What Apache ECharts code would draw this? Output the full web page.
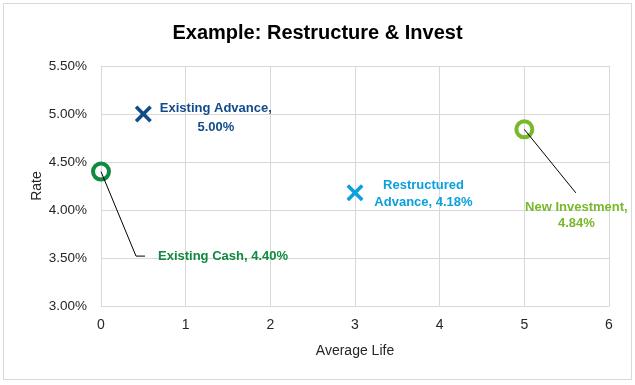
<!DOCTYPE html>
<html>
<head>
<meta charset="utf-8">
<script src="https://cdn.jsdelivr.net/npm/echarts@6/dist/echarts.min.js"></script>
<style>
html,body{margin:0;padding:0;background:#fff;}
#chart{position:absolute;left:0;top:0;width:635px;height:385px;}
#frame{position:absolute;left:3px;top:3px;width:627px;height:375px;border:1px solid #d9d9d9;pointer-events:none;}
</style>
</head>
<body>
<div id="chart"></div>
<div id="frame"></div>
<script>
const FONT = '"Liberation Sans",Arial,sans-serif';
const pointNames = ['Existing Advance', 'Existing Cash', 'Restructured Advance', 'New Investment'];
const avgLife = [0.5, 0, 3, 5];
const rates = [5.00, 4.40, 4.18, 4.84];
const labelTexts = ['Existing Advance,\n5.00%', 'Existing Cash, 4.40%', 'Restructured\nAdvance, 4.18%', 'New Investment,\n4.84%'];
const pointColors = ['#114b8a', '#0f8a3e', '#0aa0dc', '#78b82a'];
const xTicks = [0, 1, 2, 3, 4, 5, 6];
const yTicks = [3.0, 3.5, 4.0, 4.5, 5.0, 5.5];

const XPATH = 'path://M0,3 L3,0 L10,7 L17,0 L20,3 L13,10 L20,17 L17,20 L10,13 L3,20 L0,17 L7,10 Z';

const labelCfg = [
  {position: 'right', distance: 64, align: 'center', verticalAlign: 'middle', lineHeight: 19, offset: [0, 4]},
  {position: 'right', distance: 5, align: 'left', verticalAlign: 'middle'},
  {position: 'right', distance: 60, align: 'center', verticalAlign: 'middle', lineHeight: 17, offset: [0, 1]},
  {position: 'inside', align: 'center', verticalAlign: 'middle', lineHeight: 16}
];
const symbols = [XPATH, 'circle', XPATH, 'circle'];
const layouts = [null, {dx: 42, dy: 85}, null, {dx: 52, dy: 86.5}];
// leader line pixel offsets from the marker centre
const leaderOffsets = [null, [[0, 0], [35, 84.5], [44, 84.5]], null, [[0, 0], [51.5, 63.5]]];

const series = pointNames.map((n, i) => {
  const isCircle = symbols[i] === 'circle';
  return {
    name: n,
    type: 'scatter',
    data: [[avgLife[i], rates[i]]],
    symbol: symbols[i],
    symbolSize: isCircle ? 16 : 17,
    itemStyle: isCircle
      ? {color: 'rgba(255,255,255,0)', borderColor: pointColors[i], borderWidth: 4, opacity: 1}
      : {color: pointColors[i], opacity: 1},
    label: Object.assign({
      show: true,
      formatter: labelTexts[i],
      color: pointColors[i],
      fontFamily: FONT,
      fontWeight: 'bold',
      fontSize: 13
    }, labelCfg[i]),
    labelLayout: layouts[i] ? layouts[i] : undefined,
    z: 3
  };
});

pointNames.forEach((n, i) => {
  if (!leaderOffsets[i]) return;
  series.push({
    type: 'custom',
    name: n + ' leader',
    data: [[avgLife[i], rates[i]]],
    silent: true,
    z: 4,
    renderItem: (params, api) => {
      const p = api.coord([api.value(0), api.value(1)]);
      return {
        type: 'polyline',
        shape: {points: leaderOffsets[i].map(o => [p[0] + o[0], p[1] + o[1]])},
        style: {stroke: '#000', lineWidth: 1, fill: null}
      };
    }
  });
});

const chart = echarts.init(document.getElementById('chart'));
chart.setOption({
  animation: false,
  title: {
    text: 'Example: Restructure & Invest',
    left: 'center',
    top: 18,
    textStyle: {fontFamily: FONT, fontWeight: 'bold', fontSize: 20, color: '#000'}
  },
  grid: {left: 101, right: 26, top: 66, bottom: 79, containLabel: false},
  xAxis: {
    type: 'value',
    min: xTicks[0],
    max: xTicks[xTicks.length - 1],
    interval: 1,
    name: 'Average Life',
    nameLocation: 'middle',
    nameGap: 38,
    nameTextStyle: {fontFamily: FONT, fontSize: 14, color: '#262626'},
    axisLine: {show: true, lineStyle: {color: '#d9d9d9'}},
    axisTick: {show: false},
    axisLabel: {fontFamily: FONT, fontSize: 14, color: '#262626', margin: 12},
    splitLine: {show: true, lineStyle: {color: '#d9d9d9', width: 1}}
  },
  yAxis: {
    type: 'value',
    min: yTicks[0],
    max: yTicks[yTicks.length - 1],
    interval: 0.5,
    name: 'Rate',
    nameLocation: 'middle',
    nameGap: 57,
    nameMoveOverlap: false,
    nameTextStyle: {fontFamily: FONT, fontSize: 14, color: '#262626'},
    axisLine: {show: true, lineStyle: {color: '#d9d9d9'}},
    axisTick: {show: false},
    axisLabel: {fontFamily: FONT, fontSize: 13.5, color: '#262626', margin: 14, formatter: v => v.toFixed(2) + '%'},
    splitLine: {show: true, lineStyle: {color: '#d9d9d9', width: 1}}
  },
  series: series
});
</script>
</body>
</html>
